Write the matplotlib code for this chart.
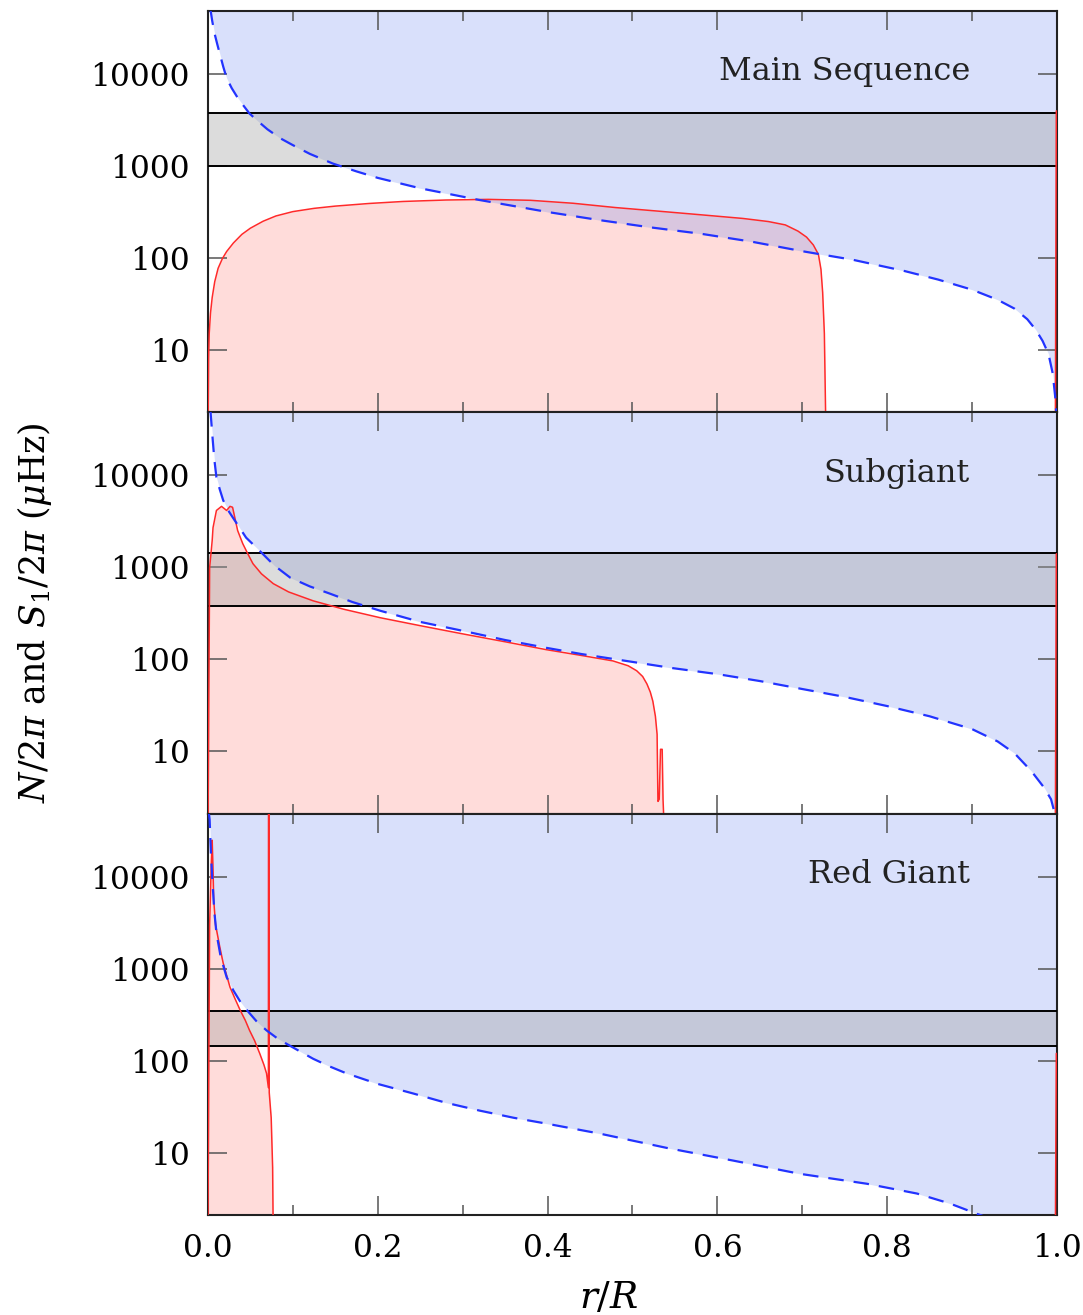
"""
plot.py

Propagation diagrams (N/2pi and S1/2pi against r/R) for a main sequence,
a subgiant and a red giant star, stacked in three panels.
"""

import matplotlib
matplotlib.use("Agg")
import matplotlib.pyplot as plt
from matplotlib.ticker import MultipleLocator, NullLocator

# Panel names, top to bottom
lstNames = ["Main Sequence", "Subgiant", "Red Giant"]

# Brunt-Vaisala frequency N/2pi (uHz)
lstMsR_N = [0.0, 0.0008, 0.0015, 0.003, 0.005, 0.008, 0.012, 0.017, 0.022, 0.03,
            0.04, 0.05, 0.065, 0.08, 0.1, 0.125, 0.15, 0.19, 0.23, 0.28,
            0.33, 0.38, 0.43, 0.48, 0.53, 0.58, 0.63, 0.66, 0.68, 0.695,
            0.705, 0.713, 0.719, 0.722, 0.724, 0.726, 0.728, 0.998, 0.9992, 1.0]
lstMsN = [1.0, 8, 15, 25, 37, 55, 77, 98, 117, 145,
          180, 210, 250, 285, 318, 345, 365, 390, 410, 425,
          432, 422, 392, 352, 322, 294, 268, 248, 228, 195,
          168, 138, 109, 75, 42, 15, 1.0, 1.0, 3950, 3950]

lstSgR_N = [0.0, 0.002, 0.005, 0.006, 0.01, 0.016, 0.022, 0.026, 0.029, 0.035,
            0.041, 0.047, 0.053, 0.063, 0.077, 0.095, 0.124, 0.16, 0.203, 0.25,
            0.3, 0.35, 0.399, 0.44, 0.477, 0.495, 0.505, 0.512, 0.517, 0.521,
            0.524, 0.527, 0.529, 0.530, 0.5315, 0.533, 0.535, 0.536, 0.538,
            0.998, 0.9992, 1.0]
lstSgN = [1.0, 990, 1950, 2700, 4150, 4600, 4150, 4600, 4500, 2510,
          1810, 1400, 1096, 850, 664, 540, 432, 350, 283, 232,
          189, 155, 127, 110, 96, 85, 75, 65, 54, 44,
          35, 24, 15.3, 2.85, 3.0, 10.5, 10.5, 3.0, 1.0,
          1.0, 1400, 1400]

lstRgR_N = [0.0, 0.002, 0.004, 0.005, 0.006, 0.0068, 0.009, 0.014, 0.018, 0.022,
            0.026, 0.032, 0.038, 0.044, 0.049, 0.055, 0.061, 0.066, 0.069, 0.0712,
            0.0714, 0.0720, 0.0722, 0.0745, 0.0762, 0.0770, 0.998, 0.9992, 1.0]
lstRgN = [1.5, 3000, 15000, 25000, 12000, 5600, 3000, 1720, 1150, 850,
          630, 470, 354, 275, 214, 165, 120, 90, 73, 51,
          1e6, 1e6, 45, 24, 6.9, 1.0, 1.0, 120, 120]

# Lamb frequency S1/2pi (uHz)
lstMsR_S = [0.003, 0.005, 0.008, 0.011, 0.014, 0.018, 0.022, 0.028, 0.035, 0.042,
            0.049, 0.06, 0.07, 0.085, 0.1, 0.12, 0.147, 0.175, 0.2, 0.25,
            0.32, 0.4, 0.46, 0.52, 0.58, 0.64, 0.7, 0.76, 0.82, 0.86,
            0.9, 0.93, 0.95, 0.965, 0.975, 0.983, 0.99, 0.995, 0.998, 1.0]
lstMsS = [50000, 37800, 27000, 21000, 16500, 12000, 9000, 7000, 5500, 4500,
          3700, 3000, 2500, 2000, 1680, 1350, 1060, 870, 740, 570,
          425, 315, 258, 215, 183, 150, 118, 95, 72, 58,
          45, 35, 28, 21.5, 16.5, 12.5, 9, 5.5, 3, 1.5]

lstSgR_S = [0.003, 0.005, 0.0075, 0.01, 0.014, 0.018, 0.025, 0.034, 0.045, 0.061,
            0.078, 0.097, 0.12, 0.144, 0.17, 0.203, 0.25, 0.3, 0.35, 0.399,
            0.44, 0.477, 0.548, 0.6, 0.65, 0.7, 0.75, 0.8, 0.85, 0.9,
            0.93, 0.95, 0.97, 0.985, 0.993, 0.998, 1.0]
lstSgS = [50000, 28700, 15000, 9500, 7000, 5340, 4000, 2990, 2100, 1510,
          1050, 771, 620, 516, 420, 337, 255, 204, 162, 133,
          114, 101, 80, 69, 58, 47.5, 39, 31, 24, 17.4,
          12.8, 9.5, 6.05, 4.0, 3.0, 2.0, 1.5]

lstRgR_S = [0.001, 0.002, 0.0035, 0.005, 0.0075, 0.01, 0.015, 0.022, 0.03, 0.038,
            0.046, 0.057, 0.069, 0.08, 0.093, 0.108, 0.124, 0.143, 0.163, 0.2,
            0.242, 0.28, 0.32, 0.36, 0.399, 0.462, 0.54, 0.619, 0.697, 0.776,
            0.835, 0.874, 0.906, 0.93, 0.96, 1.0]
lstRgS = [50000, 41900, 18000, 10000, 4200, 2450, 1350, 811, 580, 440,
          354, 270, 214, 180, 152, 127, 105, 87, 73, 56,
          44, 35, 28.7, 24, 20.7, 16.1, 11.3, 8.2, 5.9, 4.6,
          3.6, 2.8, 2.16, 1.8, 1.4, 1.0]

# Observed frequency range (grey band), uHz
lstBandLo = [1000, 376, 145]
lstBandHi = [3760, 1420, 348]

lstYTicks = [10, 100, 1000, 10000]
lstYTickLabels = ["10", "100", "1000", "10000"]

plt.rcParams["font.family"] = ["DejaVu Serif"]
plt.rcParams["mathtext.fontset"] = "dejavuserif"


def _plotPanel(ax, szName, lstRN, lstN, lstRS, lstS, fLo, fHi, bXLabels):
    """Draw one propagation diagram on ax."""
    # Region below N (g modes)
    ax.fill_between(lstRN, lstN, 1e-3, color=(1.0, 0.1, 0.05), alpha=0.15,
                    lw=0, zorder=1)
    # Region above S1 (p modes)
    ax.fill_between(lstRS, lstS, 1e7, color=(100/255, 130/255, 240/255),
                    alpha=0.245, lw=0, zorder=1)
    # Observed frequency band
    ax.axhspan(fLo, fHi, color=(160/255, 160/255, 160/255), alpha=0.37,
               lw=0, zorder=2)
    ax.axhline(fLo, color="black", lw=1.4, zorder=3)
    ax.axhline(fHi, color="black", lw=1.4, zorder=3)

    ax.plot(lstRN, lstN, color="#ff2a2a", lw=1.1, zorder=4)
    ax.plot(lstRS, lstS, color="#2233ff", lw=1.6, dashes=(7, 4.5), zorder=4)

    ax.text(0.8975, 0.848, szName, transform=ax.transAxes, ha="right",
            va="center", fontsize=23, color="#222222", zorder=5)

    ax.set_yscale("log")
    ax.set_xlim(0.0, 1.0)
    ax.set_ylim(2.1, 48700)
    ax.set_yticks(lstYTicks)
    ax.set_yticklabels(lstYTickLabels)
    ax.yaxis.set_minor_locator(NullLocator())
    ax.xaxis.set_major_locator(MultipleLocator(0.2))
    ax.xaxis.set_minor_locator(MultipleLocator(0.1))
    ax.tick_params(which="both", direction="in", top=True, right=True,
                   width=1.1, color="#555555", labelsize=22.5, pad=13)
    ax.tick_params(which="major", length=14)
    ax.tick_params(which="minor", length=7)
    if not bXLabels:
        ax.tick_params(labelbottom=False)
    for spine in ax.spines.values():
        spine.set_linewidth(1.5)
        spine.set_color("#222222")


def main():
    fig = plt.figure(figsize=(10.83, 13.15), dpi=100)

    lstData = [
        (lstMsR_N, lstMsN, lstMsR_S, lstMsS),
        (lstSgR_N, lstSgN, lstSgR_S, lstSgS),
        (lstRgR_N, lstRgN, lstRgR_S, lstRgS),
    ]
    fHeight = 0.3053
    for i, (lstRN, lstN, lstRS, lstS) in enumerate(lstData):
        fBottom = 0.0760 + (2 - i) * fHeight
        ax = fig.add_axes([0.192, fBottom, 0.784, fHeight])
        _plotPanel(ax, lstNames[i], lstRN, lstN, lstRS, lstS,
                   lstBandLo[i], lstBandHi[i], i == 2)

    fig.text(0.032, 0.534, r"$N/2\pi$ and $S_1/2\pi$ ($\mu$Hz)",
             rotation=90, ha="center", va="center", fontsize=25)
    fig.text(0.562, 0.013, r"$r/R$", ha="center", va="center", fontsize=27)

    fig.savefig("out.png", dpi=100)


if __name__ == "__main__":
    main()
